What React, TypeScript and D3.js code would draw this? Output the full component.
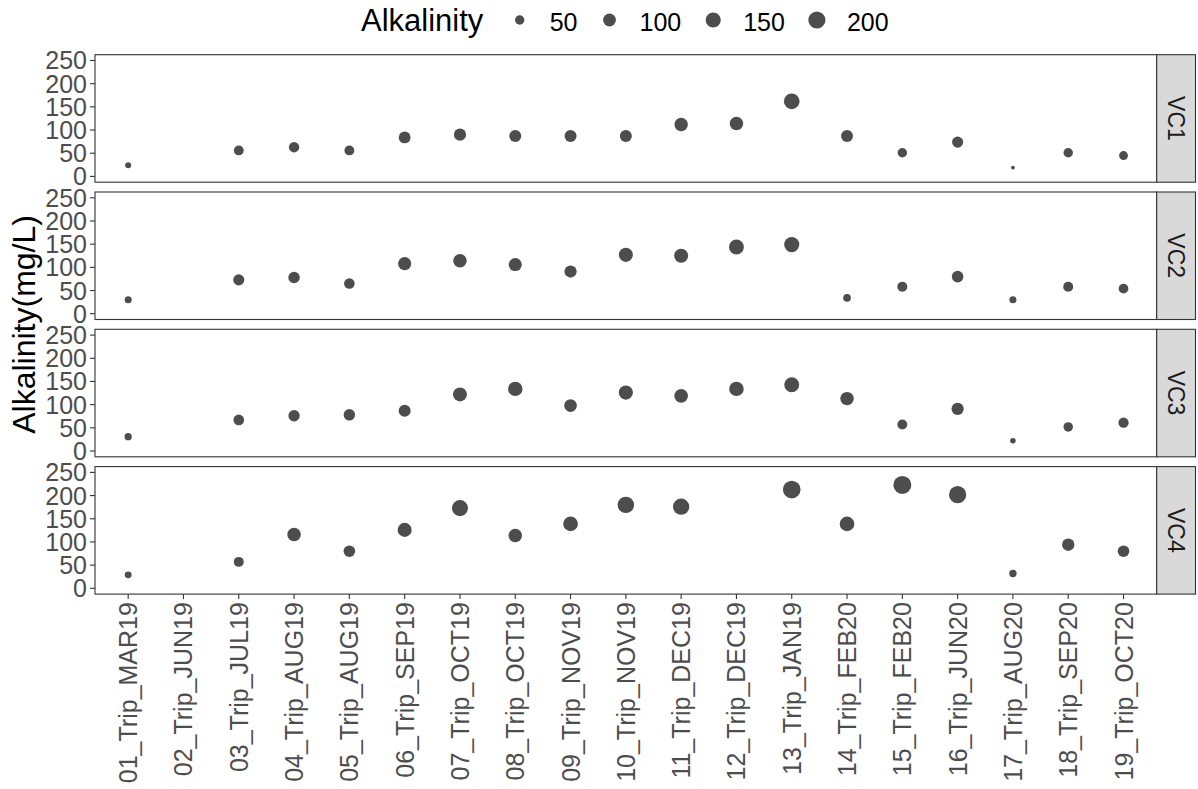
import React from "react";
import * as d3 from "d3";

const trips = [
  "01_Trip_MAR19", "02_Trip_JUN19", "03_Trip_JUL19", "04_Trip_AUG19", "05_Trip_AUG19",
  "06_Trip_SEP19", "07_Trip_OCT19", "08_Trip_OCT19", "09_Trip_NOV19", "10_Trip_NOV19",
  "11_Trip_DEC19", "12_Trip_DEC19", "13_Trip_JAN19", "14_Trip_FEB20", "15_Trip_FEB20",
  "16_Trip_JUN20", "17_Trip_AUG20", "18_Trip_SEP20", "19_Trip_OCT20",
];

const sites = ["VC1", "VC2", "VC3", "VC4"];

const vc1: (number | null)[] = [24, null, 56, 63, 56, 84, 90, 87, 87, 87, 112, 114, 162, 87, 51, 74, 19, 51, 45];
const vc2: (number | null)[] = [30, null, 73, 78, 65, 108, 114, 106, 91, 127, 125, 144, 149, 34, 58, 80, 30, 58, 54];
const vc3: (number | null)[] = [31, null, 67, 76, 78, 87, 122, 134, 98, 126, 119, 134, 143, 113, 57, 91, 22, 52, 61];
const vc4: (number | null)[] = [29, null, 57, 116, 80, 126, 173, 114, 139, 180, 176, null, 213, 139, 223, 202, 32, 94, 80];

const seriesValues = [vc1, vc2, vc3, vc4];

const yTicks = [0, 50, 100, 150, 200, 250];
const legendBreaks = [50, 100, 150, 200];

const W = 1198;
const H = 789;
const FONT = "'Liberation Sans', Arial, sans-serif";

export default function App() {
  const left = 95;
  const right = 1156.7;
  const stripW = 38.8;
  const top0 = 54.7;
  const panelH = 127.5;
  const panelStep = 137.3;

  const x = d3.scalePoint<string>().domain(trips).range([left, right]).padding(0.6);

  const all = seriesValues.flat().filter((v): v is number => v != null);
  const ext = d3.extent(all) as [number, number];
  const t = d3.scaleLinear().domain(ext).range([0, 1]).clamp(true);
  const diam = (v: number) => {
    const s = 1 + 5 * Math.sqrt(t(v));
    return 2.845 * s + 0.945;
  };

  const lastTop = top0 + panelStep * (sites.length - 1);
  const bottom = lastTop + panelH;
  const midY = (top0 + bottom) / 2;

  // legend layout
  const legTitleX = 361;
  const legY = 20;
  const legBase = 31;
  const legendItems: { v: number; cx: number; lx: number }[] = [];
  let cx = 519.7;
  legendBreaks.forEach((v) => {
    const lx = cx + 30;
    legendItems.push({ v, cx, lx });
    const w = String(v).length * 0.556 * 25;
    cx = lx + w + 32;
  });

  return (
    <svg
      width={W}
      height={H}
      style={{ position: "absolute", left: 0, top: 0, background: "#fff" }}
      fontFamily={FONT}
    >
      <rect x={0} y={0} width={W} height={H} fill="#fff" />
      {/* legend */}
      <text x={legTitleX} y={legBase} fontSize={31} fill="#000">Alkalinity</text>
      {legendItems.map((it) => (
        <g key={it.v}>
          <circle cx={it.cx} cy={legY} r={diam(it.v) / 2} fill="#4D4D4D" />
          <text x={it.lx} y={legBase} fontSize={25} fill="#000">{it.v}</text>
        </g>
      ))}

      {/* y-axis title */}
      <text
        x={35}
        y={midY}
        transform={`rotate(-90, 35, ${midY})`}
        textAnchor="middle"
        fontSize={32}
        fill="#000"
      >
        Alkalinity(mg/L)
      </text>

      {sites.map((site, i) => {
        const top = top0 + i * panelStep;
        const y = d3.scaleLinear().domain([-12.5, 262.5]).range([top + panelH, top]);
        const vals = seriesValues[i];
        const cy = top + panelH / 2;
        const sx = right + stripW / 2;
        return (
          <g key={site}>
            <rect x={left} y={top} width={right - left} height={panelH} fill="#fff" />
            {trips.map((tr, j) => {
              const v = vals[j];
              if (v == null) return null;
              return <circle key={tr} cx={x(tr)} cy={y(v)} r={diam(v) / 2} fill="#4D4D4D" />;
            })}
            <rect x={left} y={top} width={right - left} height={panelH} fill="none" stroke="#333333" strokeWidth={1.1} />
            {/* strip */}
            <rect x={right} y={top} width={stripW} height={panelH} fill="#D9D9D9" stroke="#333333" strokeWidth={1.1} />
            <text
              x={sx}
              y={cy}
              transform={`rotate(90, ${sx}, ${cy})`}
              textAnchor="middle"
              dominantBaseline="central"
              fontSize={23}
              fill="#1A1A1A"
            >
              {site}
            </text>
            {/* y axis */}
            {yTicks.map((tk) => (
              <g key={tk}>
                <line x1={left - 5} x2={left} y1={y(tk)} y2={y(tk)} stroke="#333333" strokeWidth={1.1} />
                <text
                  x={left - 8}
                  y={y(tk)}
                  textAnchor="end"
                  dominantBaseline="central"
                  fontSize={25}
                  fill="#4D4D4D"
                >
                  {tk}
                </text>
              </g>
            ))}
          </g>
        );
      })}

      {/* x axis */}
      {trips.map((tr) => {
        const px = x(tr) as number;
        const ly = bottom + 8;
        return (
          <g key={tr}>
            <line x1={px} x2={px} y1={bottom} y2={bottom + 5} stroke="#333333" strokeWidth={1.1} />
            <text
              x={px}
              y={ly}
              transform={`rotate(-90, ${px}, ${ly})`}
              textAnchor="end"
              dominantBaseline="central"
              fontSize={25}
              fill="#4D4D4D"
            >
              {tr}
            </text>
          </g>
        );
      })}
    </svg>
  );
}
